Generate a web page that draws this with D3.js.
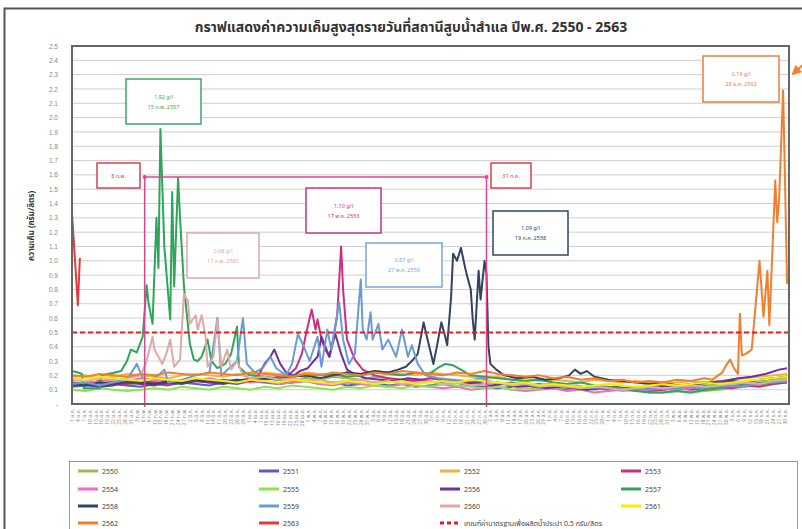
<!DOCTYPE html>
<html><head><meta charset="utf-8">
<script src="https://cdn.jsdelivr.net/npm/d3@7"></script>
<style>
html,body{margin:0;padding:0;background:#fff;}
svg{display:block;font-family:"Noto Sans Thai","Noto Sans","DejaVu Sans",sans-serif;}
</style></head>
<body><svg id="c" width="802" height="529"></svg>
<script>
// ---------- DATA ----------
const monthNames = ["ม.ค.","ก.พ.","มี.ค.","เม.ย.","พ.ค.","มิ.ย.","ก.ค.","ส.ค.","ก.ย.","ต.ค.","พ.ย.","ธ.ค."];
const monthDays = [31,28,31,30,31,30,31,31,30,31,30,31];
const yTicks = [0,0.1,0.2,0.3,0.4,0.5,0.6,0.7,0.8,0.9,1.0,1.1,1.2,1.3,1.4,1.5,1.6,1.7,1.8,1.9,2.0,2.1,2.2,2.3,2.4,2.5];
const threshold = 0.5;
const weekDays = [0,7,14,21,28,35,42,49,56,63,70,77,84,91,98,105,112,119,126,133,140,147,154,161,168,175,182,189,196,203,210,217,224,231,238,245,252,259,266,273,280,287,294,301,308,315,322,329,336,343,350,357,364];

const v2550 = [0.15,0.14,0.16,0.15,0.13,0.15,0.16,0.14,0.15,0.17, 0.16,0.15,0.17,0.16,0.18,0.17,0.16,0.18,0.17,0.19, 0.18,0.17,0.19,0.18,0.17,0.16,0.18,0.17,0.16,0.15, 0.14,0.15,0.13,0.12,0.13,0.12,0.11,0.12,0.10,0.11, 0.09,0.10,0.08,0.08,0.09,0.08,0.09,0.10,0.11,0.12, 0.13,0.14,0.15];
const v2551 = [0.12,0.13,0.12,0.14,0.13,0.12,0.14,0.13,0.15,0.14, 0.13,0.15,0.14,0.16,0.15,0.14,0.15,0.16,0.14,0.15, 0.13,0.14,0.15,0.13,0.14,0.12,0.13,0.14,0.12,0.13, 0.12,0.11,0.12,0.13,0.11,0.12,0.10,0.11,0.12,0.10, 0.11,0.12,0.11,0.10,0.12,0.11,0.13,0.12,0.14,0.13, 0.15,0.16,0.17];
const v2552 = [0.19,0.20,0.18,0.19,0.21,0.20,0.19,0.18,0.20,0.21, 0.20,0.19,0.21,0.20,0.22,0.21,0.20,0.22,0.21,0.20, 0.22,0.21,0.23,0.22,0.21,0.20,0.22,0.21,0.20,0.19, 0.18,0.19,0.17,0.18,0.16,0.17,0.16,0.15,0.17,0.16, 0.15,0.16,0.15,0.14,0.15,0.16,0.15,0.16,0.17,0.18, 0.19,0.20,0.21];
const v2554 = [0.17,0.16,0.15,0.17,0.16,0.18,0.17,0.16,0.15,0.17, 0.18,0.16,0.17,0.15,0.16,0.14,0.15,0.16,0.14,0.13, 0.15,0.14,0.13,0.12,0.14,0.13,0.12,0.11,0.12,0.10, 0.11,0.12,0.10,0.09,0.10,0.11,0.09,0.10,0.08,0.09, 0.10,0.09,0.10,0.11,0.10,0.11,0.12,0.11,0.12,0.13, 0.14,0.15,0.16];
const v2555 = [0.10,0.09,0.11,0.10,0.09,0.10,0.11,0.10,0.12,0.11, 0.10,0.12,0.11,0.10,0.12,0.11,0.13,0.12,0.11,0.10, 0.12,0.11,0.13,0.12,0.11,0.13,0.12,0.14,0.13,0.12, 0.11,0.12,0.10,0.11,0.10,0.12,0.11,0.10,0.11,0.12, 0.10,0.11,0.12,0.11,0.13,0.12,0.14,0.13,0.14,0.15, 0.16,0.17,0.18];
const v2561 = [0.18,0.17,0.19,0.18,0.17,0.16,0.18,0.17,0.16,0.18, 0.17,0.16,0.15,0.17,0.16,0.15,0.17,0.16,0.15,0.14, 0.16,0.15,0.14,0.15,0.16,0.14,0.15,0.16,0.15,0.17, 0.16,0.15,0.14,0.15,0.13,0.14,0.13,0.12,0.13,0.14, 0.13,0.12,0.13,0.14,0.13,0.14,0.15,0.14,0.15,0.16, 0.17,0.18,0.19];

const p2553 = [[0,0.15],[7,0.14],[14,0.16],[21,0.15],[28,0.14],[35,0.16],[42,0.15],[49,0.14],[56,0.15],[63,0.16],[70,0.15],[77,0.17],[84,0.16],[91,0.18],[98,0.17],[105,0.19],[110,0.2],[114,0.25],[117,0.35],[119,0.48],[122,0.66],[124,0.52],[125,0.59],[127,0.45],[129,0.38],[131,0.33],[133,0.45],[135,0.62],[137,1.10],[138,0.8],[140,0.45],[142,0.38],[144,0.31],[148,0.24],[154,0.2],[161,0.18],[168,0.17],[175,0.16],[182,0.18],[189,0.17],[196,0.16],[203,0.15],[210,0.16],[217,0.14],[224,0.15],[231,0.13],[238,0.14],[245,0.12],[252,0.13],[259,0.11],[266,0.12],[273,0.1],[280,0.11],[287,0.1],[294,0.09],[301,0.1],[308,0.11],[315,0.1],[322,0.11],[329,0.12],[336,0.11],[343,0.13],[350,0.12],[357,0.14],[364,0.15]];
const p2556 = [[0,0.13],[7,0.14],[14,0.12],[21,0.13],[28,0.15],[35,0.14],[42,0.13],[49,0.15],[56,0.14],[63,0.16],[70,0.15],[77,0.14],[84,0.16],[91,0.17],[95,0.2],[98,0.28],[101,0.33],[103,0.38],[106,0.28],[109,0.22],[113,0.2],[116,0.23],[120,0.25],[123,0.3],[125,0.33],[127,0.47],[129,0.4],[131,0.33],[134,0.49],[137,0.35],[140,0.24],[145,0.2],[150,0.18],[157,0.17],[164,0.16],[171,0.18],[178,0.17],[185,0.15],[192,0.16],[199,0.14],[206,0.15],[213,0.13],[220,0.14],[227,0.12],[234,0.13],[241,0.11],[248,0.12],[255,0.11],[262,0.1],[269,0.11],[276,0.12],[283,0.11],[290,0.12],[297,0.13],[304,0.12],[311,0.13],[318,0.14],[325,0.15],[332,0.16],[339,0.18],[346,0.19],[353,0.21],[360,0.24],[364,0.25]];
const p2557 = [[0,0.23],[3,0.22],[5,0.21],[6,0.11],[10,0.11],[14,0.11],[15,0.2],[18,0.21],[22,0.22],[25,0.23],[28,0.3],[30,0.38],[33,0.36],[36,0.47],[38,0.83],[39,0.7],[41,0.56],[43,1.30],[44,0.95],[45,1.92],[47,1.1],[50,0.59],[51,1.48],[52,0.82],[54,1.58],[55,1.3],[57,0.82],[60,0.42],[62,0.31],[64,0.3],[66,0.33],[69,0.45],[71,0.3],[74,0.25],[78,0.28],[81,0.35],[84,0.54],[85,0.26],[88,0.22],[91,0.2],[98,0.19],[105,0.18],[112,0.2],[119,0.19],[126,0.2],[133,0.21],[140,0.19],[147,0.2],[154,0.22],[161,0.21],[168,0.2],[175,0.22],[182,0.21],[186,0.25],[190,0.28],[194,0.27],[198,0.24],[203,0.2],[210,0.19],[217,0.18],[224,0.17],[231,0.16],[238,0.17],[245,0.15],[252,0.14],[259,0.15],[266,0.13],[273,0.12],[280,0.11],[287,0.09],[294,0.08],[301,0.08],[308,0.09],[315,0.08],[322,0.1],[329,0.11],[336,0.12],[343,0.13],[350,0.14],[357,0.15],[364,0.16]];
const p2558 = [[0,0.14],[7,0.13],[14,0.15],[21,0.14],[28,0.16],[35,0.15],[42,0.14],[49,0.16],[56,0.15],[63,0.17],[70,0.16],[77,0.15],[84,0.17],[91,0.16],[98,0.18],[105,0.17],[112,0.19],[119,0.2],[126,0.18],[133,0.2],[140,0.22],[147,0.21],[154,0.23],[161,0.22],[166,0.24],[170,0.26],[173,0.3],[176,0.35],[179,0.57],[181,0.45],[184,0.28],[186,0.42],[188,0.57],[190,0.47],[191,0.41],[193,0.75],[194,1.05],[196,1.0],[198,1.09],[200,0.96],[201,0.9],[203,0.8],[204,0.59],[205,0.45],[207,0.93],[208,0.73],[210,1.0],[211,0.91],[212,0.4],[213,0.28],[216,0.24],[220,0.2],[227,0.18],[234,0.19],[241,0.17],[248,0.18],[253,0.2],[256,0.24],[259,0.21],[262,0.23],[266,0.19],[273,0.17],[280,0.16],[287,0.15],[294,0.14],[301,0.15],[308,0.13],[315,0.14],[322,0.15],[329,0.14],[336,0.16],[343,0.15],[350,0.17],[357,0.18],[364,0.19]];
const p2559 = [[0,0.14],[7,0.15],[14,0.13],[21,0.15],[28,0.17],[33,0.28],[36,0.18],[40,0.17],[44,0.2],[47,0.24],[49,0.15],[56,0.17],[63,0.2],[70,0.22],[74,0.6],[76,0.2],[80,0.25],[84,0.3],[87,0.6],[89,0.28],[93,0.22],[97,0.25],[101,0.33],[104,0.25],[109,0.2],[112,0.28],[115,0.49],[118,0.4],[121,0.3],[125,0.47],[127,0.26],[130,0.52],[132,0.38],[136,0.71],[138,0.45],[141,0.28],[144,0.35],[147,0.87],[148,0.52],[150,0.45],[152,0.64],[153,0.45],[156,0.56],[158,0.38],[161,0.45],[165,0.33],[168,0.52],[171,0.33],[173,0.41],[176,0.28],[180,0.2],[187,0.18],[194,0.17],[201,0.16],[208,0.18],[215,0.15],[222,0.14],[229,0.15],[236,0.13],[243,0.14],[250,0.12],[257,0.13],[264,0.11],[271,0.12],[278,0.1],[285,0.11],[292,0.1],[299,0.11],[306,0.1],[313,0.12],[320,0.11],[327,0.12],[334,0.13],[341,0.12],[348,0.14],[355,0.15],[364,0.16]];
const p2560 = [[0,0.17],[7,0.16],[14,0.18],[21,0.17],[28,0.18],[35,0.2],[38,0.3],[41,0.47],[42,0.38],[46,0.28],[48,0.35],[50,0.45],[52,0.26],[55,0.31],[57,0.77],[59,0.72],[60,0.56],[63,0.62],[64,0.52],[66,0.62],[68,0.47],[69,0.26],[72,0.33],[74,0.59],[76,0.26],[79,0.38],[81,0.24],[84,0.3],[87,0.2],[91,0.18],[98,0.19],[105,0.17],[112,0.18],[119,0.16],[126,0.17],[133,0.15],[140,0.16],[147,0.17],[154,0.15],[161,0.16],[168,0.14],[175,0.15],[182,0.16],[189,0.14],[196,0.15],[203,0.13],[210,0.14],[217,0.15],[224,0.13],[231,0.14],[238,0.12],[245,0.13],[252,0.12],[259,0.11],[266,0.12],[273,0.11],[280,0.1],[287,0.11],[294,0.12],[301,0.11],[308,0.12],[315,0.13],[322,0.12],[329,0.13],[336,0.14],[343,0.15],[350,0.14],[357,0.16],[364,0.17]];
const p2562 = [[0,0.2],[7,0.19],[14,0.21],[21,0.2],[28,0.19],[35,0.21],[42,0.2],[49,0.22],[56,0.21],[63,0.2],[70,0.22],[77,0.21],[84,0.2],[91,0.22],[98,0.21],[105,0.2],[112,0.19],[119,0.21],[126,0.2],[133,0.22],[140,0.21],[147,0.2],[154,0.22],[161,0.21],[168,0.23],[175,0.22],[182,0.21],[189,0.2],[196,0.22],[203,0.21],[210,0.23],[217,0.21],[224,0.2],[231,0.19],[238,0.2],[245,0.18],[252,0.19],[259,0.17],[266,0.18],[273,0.16],[280,0.17],[287,0.15],[294,0.16],[301,0.15],[308,0.17],[315,0.16],[322,0.18],[326,0.17],[329,0.2],[331,0.22],[333,0.27],[335,0.31],[337,0.25],[339,0.21],[340,0.63],[341,0.34],[343,0.35],[346,0.38],[350,1.0],[352,0.61],[354,0.93],[355,0.55],[358,1.56],[359,1.27],[360,1.44],[362,2.19],[363,1.54],[364,0.84]];
const p2563 = [[0,1.33],[3,0.69],[4,1.02]];

const seriesNames = ["2550","2551","2552","2553","2554","2555","2556","2557","2558","2559","2560","2561","2562","2563"];
const seriesColors = ["#9bbb59","#5c5cc8","#f5b041","#c9307f","#f36bc8","#86e84a","#7030a0","#2ea55a","#34445f","#6a9bd6","#ddaaa6","#f0f000","#f07f30","#e03a3a"];
const weekly = v => weekDays.map((d,i)=>[d,v[i]]);
const seriesData = [weekly(v2550),weekly(v2551),weekly(v2552),p2553,weekly(v2554),weekly(v2555),p2556,p2557,p2558,p2559,p2560,weekly(v2561),p2562,p2563];
const thresholdLabel = "เกณฑ์ค่ามาตรฐานเพื่อผลิตน้ำประปา 0.5 กรัม/ลิตร";

// annotations: [text1, text2, color, x0, y0, x1, y1]
const notes = [
  ["1.92 g/l","15 ก.พ. 2557","#3aa864",126,79,201,124],
  ["0.68 g/l","17 ก.พ. 2560","#dbaaa8",187,233,259,278],
  ["1.10 g/l","17 พ.ค. 2553","#c8307e",306,188,381,233],
  ["0.87 g/l","27 พ.ค. 2559","#7aa6d6",366,243,442,287],
  ["1.09 g/l","19 ก.ค. 2558","#34445f",493,211,568,255],
  ["2.19 g/l","29 ธ.ค. 2562","#e8803e",703,56,779,102],
  ["8 ก.พ.","","#d8404f",97,163,140,188],
  ["31 ก.ค.","","#d8404f",491,163,531,188]
];
const bracketDays = [37, 211];

// ---------- CHART ----------
const svg = d3.select("#c");
const L=72, R=789, T=46, B=404;
const x = d3.scaleLinear().domain([0,365]).range([L,R]);
const y = d3.scaleLinear().domain([0,2.5]).range([B,T]);

// outer border
svg.append("rect").attr("x",4.5).attr("y",8.5).attr("width",805).attr("height",530)
  .attr("fill","#fff").attr("stroke","#555").attr("stroke-width",2);

svg.append("text").attr("x",411).attr("y",32).attr("text-anchor","middle")
  .attr("font-size",14).attr("font-weight","bold").attr("fill","#333")
  .text("กราฟแสดงค่าความเค็มสูงสุดรายวันที่สถานีสูบน้ำสำแล ปีพ.ศ. 2550 - 2563");

// gridlines
svg.append("g").selectAll("line").data(yTicks.filter(t=>t>0)).join("line")
  .attr("x1",L).attr("x2",R).attr("y1",d=>y(d)).attr("y2",d=>y(d))
  .attr("stroke","#cfcfcf").attr("stroke-width",1);

// y axis labels
const yAxis = d3.axisLeft(y).tickValues(yTicks).tickSize(0).tickPadding(0)
  .tickFormat(d=> d===0 ? "-" : d3.format(".1f")(d));
const ga = svg.append("g").attr("transform",`translate(${L-14},0)`).call(yAxis);
ga.select(".domain").remove();
ga.selectAll("text").attr("font-size",6.5).attr("fill","#888").attr("font-family","inherit");

svg.append("text").attr("transform","translate(34,226) rotate(-90)").attr("text-anchor","middle")
  .attr("font-size",8).attr("font-weight","bold").attr("fill","#333").text("ความเค็ม (กรัม/ลิตร)");

// x labels
function dayLabel(d){ let m=0; while(d>=monthDays[m]){ d-=monthDays[m]; m++; } return (d+1)+" "+monthNames[m]; }
const xTickDays = d3.range(0,365,3);
svg.append("g").selectAll("text").data(xTickDays).join("text")
  .attr("transform",d=>`translate(${x(d)+2},${B+5}) rotate(-90)`)
  .attr("text-anchor","end").attr("font-size",5).attr("fill","#888").text(d=>dayLabel(d));

// series lines
const line = d3.line().x(d=>x(d[0])).y(d=>y(d[1]));
svg.append("g").selectAll("path").data(seriesData).join("path")
  .attr("d",line).attr("fill","none").attr("stroke",(d,i)=>seriesColors[i])
  .attr("stroke-width",2).attr("stroke-linejoin","round");

// threshold
svg.append("line").attr("x1",L).attr("x2",R).attr("y1",y(threshold)).attr("y2",y(threshold))
  .attr("stroke","#e02020").attr("stroke-width",2).attr("stroke-dasharray","5,3");

// bracket
const bc="#e0458c", by=177;
bracketDays.forEach(d=>{
  svg.append("line").attr("x1",x(d)).attr("x2",x(d)).attr("y1",by).attr("y2",B+3)
    .attr("stroke",bc).attr("stroke-width",1.5);
});
svg.append("line").attr("x1",x(bracketDays[0])).attr("x2",x(bracketDays[1])).attr("y1",by).attr("y2",by)
  .attr("stroke",bc).attr("stroke-width",1.5);
[bracketDays[0],bracketDays[1]].forEach(d=>{
  svg.append("circle").attr("cx",x(d)).attr("cy",by).attr("r",2).attr("fill",bc);
});

// plot frame
svg.append("rect").attr("x",L).attr("y",T).attr("width",R-L).attr("height",B-T)
  .attr("fill","none").attr("stroke","#666").attr("stroke-width",2);

// annotations
notes.forEach(n=>{
  const [t1,t2,c,x0,y0,x1,y1]=n;
  svg.append("rect").attr("x",x0).attr("y",y0).attr("width",x1-x0).attr("height",y1-y0)
    .attr("fill","#fff").attr("stroke",c).attr("stroke-width",1.5);
  const cx=(x0+x1)/2, cy=(y0+y1)/2;
  if(t2){
    svg.append("text").attr("x",cx).attr("y",cy-3).attr("text-anchor","middle").attr("font-size",5.5).attr("fill",c).text(t1);
    svg.append("text").attr("x",cx).attr("y",cy+7).attr("text-anchor","middle").attr("font-size",5.5).attr("fill",c).text(t2);
  } else {
    svg.append("text").attr("x",cx).attr("y",cy+2).attr("text-anchor","middle").attr("font-size",5.5).attr("fill",c).text(t1);
  }
});
// orange arrow outside frame
svg.append("defs").append("marker").attr("id","ah").attr("viewBox","0 0 10 10").attr("refX",8).attr("refY",5)
  .attr("markerWidth",5).attr("markerHeight",5).attr("orient","auto")
  .append("path").attr("d","M0,0L10,5L0,10z").attr("fill","#f07f30");
svg.append("line").attr("x1",806).attr("y1",62).attr("x2",793).attr("y2",74)
  .attr("stroke","#f07f30").attr("stroke-width",2).attr("marker-end","url(#ah)");

// legend
const lg = svg.append("g");
lg.append("rect").attr("x",69.5).attr("y",461.5).attr("width",728).attr("height",75)
  .attr("fill","#fff").attr("stroke","#999").attr("stroke-width",1);
const colX=[78,259,440,621], rowY=[471,489,506,523];
seriesNames.forEach((s,i)=>{
  const cx=colX[i%4], cy=rowY[Math.floor(i/4)];
  lg.append("line").attr("x1",cx).attr("x2",cx+20).attr("y1",cy).attr("y2",cy)
    .attr("stroke",seriesColors[i]).attr("stroke-width",3);
  lg.append("text").attr("x",cx+24).attr("y",cy+2.5).attr("font-size",7).attr("fill","#444").text(s);
});
lg.append("line").attr("x1",colX[2]).attr("x2",colX[2]+20).attr("y1",rowY[3]).attr("y2",rowY[3])
  .attr("stroke","#e02020").attr("stroke-width",3).attr("stroke-dasharray","4,3");
lg.append("text").attr("x",colX[2]+24).attr("y",rowY[3]+2.5).attr("font-size",7).attr("fill","#444").text(thresholdLabel);
</script></body></html>
